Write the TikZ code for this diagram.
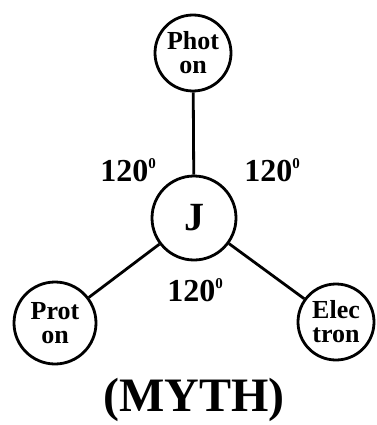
\documentclass[tikz,border=0pt]{standalone}
\usepackage{fontspec}
\setmainfont{Liberation Serif}
\newcommand{\degsup}{\raisebox{0.42em}{\fontsize{15}{15}\selectfont 0}}
\begin{document}
\begin{tikzpicture}[x=1pt,y=-1pt,
  particle/.style={draw,circle,line width=2.8pt,inner sep=0pt,align=center,
    font=\fontsize{26}{24}\selectfont\bfseries},
  link/.style={line width=2.8pt},
  angle/.style={font=\fontsize{32}{34}\selectfont\bfseries,inner sep=0pt}]
\useasboundingbox (0,0) rectangle (376,425);
\node[particle,minimum size=76pt] (photon) at (193,53) {Phot\\on};
\node[particle,minimum size=84pt,font=\fontsize{40}{40}\selectfont\bfseries] (j) at (194,218) {J};
\node[particle,minimum size=82pt] (proton) at (55,323) {Prot\\on};
\node[particle,minimum size=76pt] (electron) at (336,322) {Elec\\tron};
\draw[link] (photon) -- (j);
\draw[link] (j) -- (proton);
\draw[link] (j) -- (electron);
\node[angle] (a1) at (128,170) {120\degsup};
\node[angle] (a2) at (272,170) {120\degsup};
\node[angle] (a3) at (195,290) {120\degsup};
\node[font=\fontsize{48}{50}\selectfont\bfseries,inner sep=0pt] (myth) at (194,400) {(MYTH)};
\end{tikzpicture}
\end{document}
